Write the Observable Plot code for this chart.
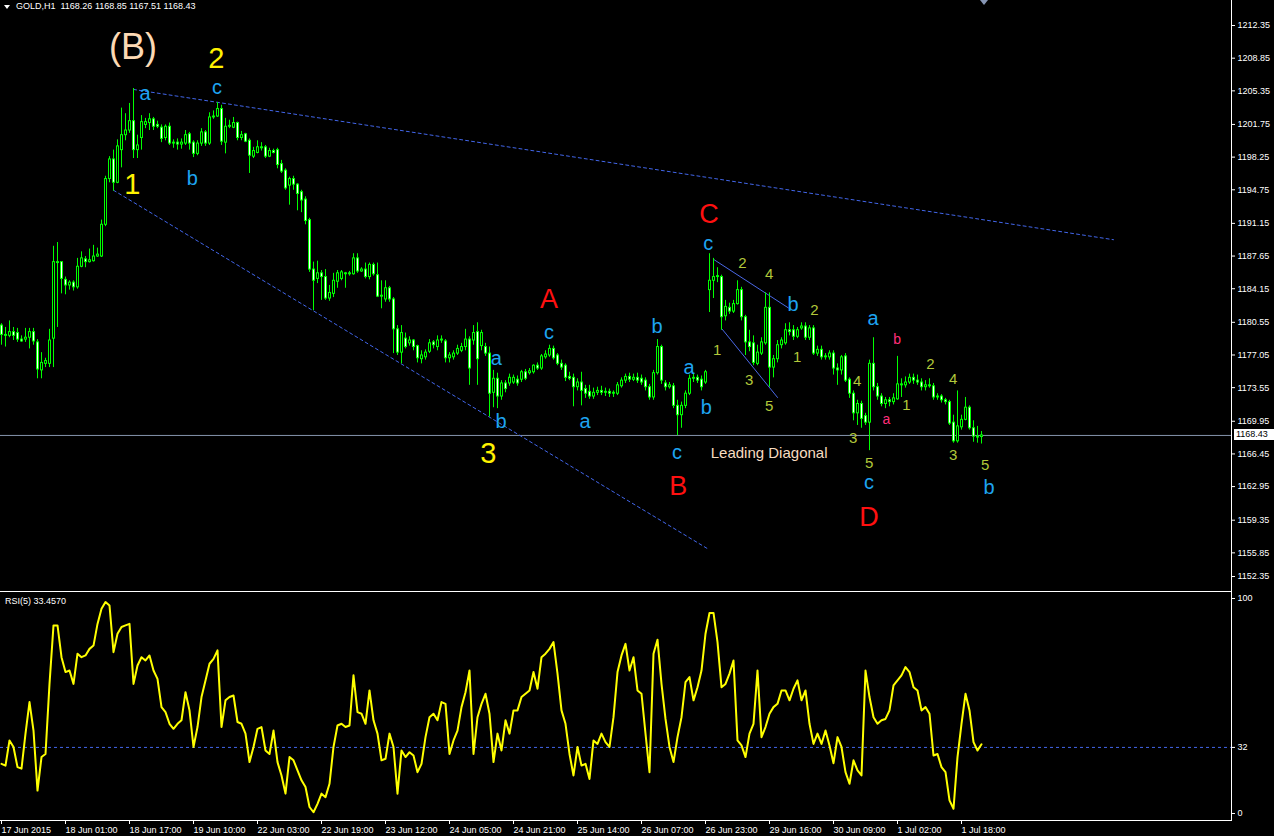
<!DOCTYPE html>
<html><head><meta charset="utf-8">
<script src="https://cdn.jsdelivr.net/npm/d3@7"></script>
<script src="https://cdn.jsdelivr.net/npm/@observablehq/plot@0.6"></script>
<style>
html,body{margin:0;padding:0;background:#000;}
#wrap{position:relative;width:1274px;height:836px;background:#000;overflow:hidden;font-family:"Liberation Sans",Arial,sans-serif;}
.abs{position:absolute;}
.lbl{position:absolute;color:#fff;font-size:9px;white-space:pre;line-height:11px;}
</style></head><body><div id="wrap"></div><script>
// ---------- DATA ----------
const symbol = "GOLD,H1";
const lastO = 1168.26, lastH = 1168.85, lastL = 1167.51, lastPrice = 1168.43;
const rsiLabel = "RSI(5) 33.4570";

const opens = [1180.2,1179.2,1179.1,1179.5,1179.4,1178.7,1178.7,1178.9,1179.5,1178.4,
1175.4,1176.1,1176.1,1178.8,1187.0,1187.0,1185.1,1184.5,1184.8,1184.3,
1186.5,1187.3,1187.0,1187.1,1187.6,1187.6,1191.0,1195.9,1198.0,1195.5,
1199.0,1200.6,1201.1,1202.1,1199.0,1200.3,1201.7,1201.9,1202.3,1201.7,
1201.4,1200.3,1201.5,1199.7,1199.8,1199.6,1199.7,1200.7,1199.8,1198.6,
1199.7,1200.9,1199.7,1202.5,1202.6,1203.4,1199.8,1201.5,1201.4,1201.9,
1200.3,1200.7,1200.0,1198.3,1198.7,1199.3,1199.3,1198.3,1198.9,1199.0,
1197.5,1196.8,1195.2,1195.9,1195.3,1194.5,1193.7,1191.5,1186.2,1185.2,
1185.8,1185.4,1183.1,1183.6,1184.9,1185.2,1185.8,1185.7,1185.7,1187.4,
1186.0,1186.2,1185.4,1186.7,1185.6,1183.3,1183.0,1184.2,1183.0,1179.8,
1177.3,1178.8,1178.3,1178.6,1178.0,1176.6,1176.8,1177.4,1178.4,1177.9,
1178.6,1178.5,1176.7,1176.8,1177.2,1177.5,1177.9,1178.7,1178.6,1179.5,
1178.0,1177.9,1177.2,1173.0,1174.5,1172.6,1174.0,1174.0,1174.1,1174.4,
1174.4,1175.2,1175.1,1175.2,1175.9,1175.6,1176.8,1177.0,1177.7,1177.0,
1176.1,1175.9,1174.7,1174.6,1173.6,1174.1,1173.4,1173.1,1172.6,1173.0,
1173.2,1173.0,1173.1,1172.9,1172.9,1173.7,1174.3,1174.7,1174.4,1174.6,
1174.5,1174.3,1173.6,1172.5,1175.1,1177.9,1174.0,1173.6,1173.7,1171.6,
1170.6,1171.6,1172.9,1174.5,1174.6,1174.4,1174.1,1184.0,1185.0,1185.4,
1185.4,1181.2,1182.1,1181.7,1182.5,1184.0,1181.1,1178.4,1178.3,1176.1,
1177.2,1178.3,1182.1,1175.7,1176.6,1178.1,1178.3,1179.7,1179.7,1179.0,
1179.9,1180.1,1178.9,1179.9,1177.2,1177.6,1176.8,1176.8,1177.2,1175.6,
1175.4,1176.9,1174.4,1172.9,1170.8,1171.8,1170.5,1169.8,1176.1,1173.6,
1172.6,1171.8,1172.2,1172.0,1172.3,1173.9,1173.8,1174.1,1174.6,1174.3,
1174.1,1173.6,1173.8,1173.7,1172.5,1172.6,1172.2,1172.0,1169.8,1167.8,
1169.3,1170.1,1171.4,1169.2,1168.3,1168.26];
const highs = [1180.4,1180.0,1180.7,1180.0,1179.9,1179.1,1179.9,1179.9,1179.9,1178.7,
1177.3,1176.7,1179.8,1188.7,1189.1,1187.0,1185.4,1185.0,1185.0,1187.4,
1188.1,1187.6,1188.4,1188.8,1188.5,1191.5,1196.2,1198.3,1199.0,1200.1,
1203.5,1202.9,1204.0,1205.6,1200.6,1202.7,1202.4,1202.9,1202.5,1202.1,
1201.7,1201.7,1201.9,1200.1,1200.2,1200.2,1201.1,1200.9,1200.0,1200.0,
1201.3,1201.1,1203.0,1203.2,1204.1,1203.8,1202.4,1202.2,1202.5,1202.0,
1201.0,1200.8,1200.2,1199.3,1200.0,1199.8,1199.5,1199.2,1199.1,1199.2,
1197.9,1197.0,1196.1,1196.2,1195.4,1194.7,1194.0,1191.7,1187.0,1187.1,
1186.1,1186.2,1184.5,1185.8,1186.1,1186.1,1185.9,1186.0,1187.9,1187.9,
1186.4,1186.9,1186.9,1186.9,1186.9,1185.0,1185.0,1184.4,1183.2,1180.2,
1180.2,1179.4,1179.0,1178.7,1178.1,1177.5,1177.6,1178.7,1178.6,1179.1,
1179.1,1178.7,1177.3,1177.5,1178.1,1178.3,1179.8,1179.0,1180.2,1180.5,
1179.7,1178.3,1177.9,1175.4,1175.1,1174.3,1174.3,1175.0,1174.9,1174.8,
1175.4,1175.5,1175.6,1176.0,1176.2,1177.1,1177.5,1178.1,1178.0,1177.2,
1176.5,1176.1,1175.2,1175.0,1174.5,1175.2,1173.8,1173.8,1173.5,1173.6,
1173.7,1173.5,1173.4,1173.2,1174.1,1174.6,1175.0,1175.1,1175.0,1175.1,
1174.9,1174.6,1173.9,1175.4,1178.7,1178.1,1174.3,1174.1,1174.0,1172.2,
1172.0,1173.2,1174.9,1175.0,1174.9,1174.8,1175.4,1187.9,1187.4,1186.4,
1185.6,1182.9,1182.6,1182.9,1185.0,1184.3,1181.3,1179.7,1179.1,1178.1,
1178.9,1183.7,1183.7,1177.0,1178.6,1178.9,1180.4,1180.5,1180.2,1180.0,
1180.5,1180.5,1180.2,1180.2,1178.0,1178.0,1177.2,1177.5,1177.5,1176.1,
1177.0,1177.2,1174.6,1173.2,1172.2,1172.1,1170.8,1176.5,1178.9,1174.0,
1172.9,1172.5,1172.5,1172.9,1176.9,1174.5,1174.7,1175.0,1175.0,1174.9,
1174.5,1174.3,1174.5,1174.0,1172.9,1172.8,1172.4,1172.2,1170.6,1173.2,
1170.6,1172.5,1171.6,1170.0,1169.4,1168.85];
const lows = [1178.1,1177.9,1178.9,1178.6,1178.4,1178.4,1178.4,1177.7,1178.1,1174.5,
1174.5,1175.7,1175.7,1175.7,1180.0,1183.6,1183.5,1184.0,1183.9,1184.1,
1186.4,1186.4,1186.9,1187.0,1187.5,1187.5,1190.8,1195.5,1194.6,1195.4,
1197.1,1200.0,1200.8,1198.1,1198.1,1199.0,1201.3,1201.1,1201.1,1201.3,
1199.8,1200.0,1199.5,1199.2,1199.0,1199.1,1199.5,1199.0,1198.2,1198.4,
1199.4,1199.4,1199.5,1202.3,1202.5,1199.5,1198.6,1201.3,1201.3,1200.0,
1200.0,1199.8,1196.5,1198.1,1198.6,1198.9,1198.1,1198.2,1198.6,1197.0,
1196.5,1194.7,1193.1,1194.7,1192.5,1192.3,1191.0,1185.9,1181.8,1184.7,
1182.9,1182.9,1182.8,1183.2,1184.2,1185.0,1184.2,1185.5,1185.6,1185.8,
1185.9,1185.2,1185.1,1185.5,1183.2,1182.0,1182.7,1182.7,1177.2,1177.0,
1176.1,1177.7,1178.0,1177.5,1176.2,1176.1,1176.5,1177.2,1177.7,1177.5,
1178.3,1176.2,1176.2,1176.5,1177.0,1177.3,1177.5,1173.8,1178.1,1173.8,
1177.5,1176.9,1170.4,1171.4,1171.3,1172.2,1173.0,1173.7,1173.9,1173.7,
1174.1,1174.3,1174.9,1175.0,1175.4,1175.4,1176.6,1176.8,1176.5,1175.9,
1175.4,1174.2,1174.3,1171.5,1173.2,1171.6,1172.4,1172.3,1172.3,1172.7,
1172.7,1172.6,1172.5,1172.5,1172.7,1173.5,1174.0,1174.1,1174.2,1174.0,
1173.8,1173.2,1172.2,1172.2,1174.9,1173.9,1173.2,1173.4,1171.3,1168.4,
1169.2,1171.3,1172.7,1174.1,1174.0,1173.2,1173.9,1181.6,1183.1,1184.8,
1179.7,1180.7,1181.4,1181.5,1182.4,1180.7,1177.0,1177.4,1175.9,1175.9,
1177.0,1178.1,1173.6,1174.6,1176.2,1177.7,1178.1,1179.1,1178.6,1178.8,
1179.7,1178.6,1178.6,1177.0,1176.9,1176.5,1176.5,1176.5,1174.9,1173.8,
1174.9,1174.1,1172.4,1170.0,1169.5,1169.2,1169.5,1166.8,1173.2,1172.2,
1171.5,1171.3,1171.5,1171.7,1172.2,1172.5,1173.5,1173.9,1173.9,1173.8,
1173.2,1173.2,1173.5,1172.2,1172.2,1171.9,1171.7,1169.5,1167.6,1167.6,
1169.0,1170.0,1169.0,1167.7,1167.6,1167.51];
const closes = [1179.2,1179.1,1179.5,1179.1,1178.7,1178.5,1178.9,1179.5,1178.5,1175.5,
1176.2,1176.4,1178.6,1187.0,1186.9,1185.2,1184.5,1184.8,1184.3,1186.5,
1187.4,1187.0,1187.2,1187.6,1187.8,1191.0,1195.9,1198.0,1195.5,1199.4,
1200.6,1201.1,1202.1,1199.0,1199.5,1202.0,1202.0,1202.3,1201.5,1201.5,
1200.2,1201.5,1199.7,1199.8,1199.6,1199.8,1200.6,1199.7,1198.6,1199.7,
1200.9,1199.7,1202.5,1202.6,1203.4,1199.9,1201.5,1201.6,1201.9,1200.3,
1200.6,1199.9,1198.4,1198.9,1199.3,1199.2,1198.3,1198.9,1198.7,1197.4,
1196.7,1194.9,1195.9,1195.3,1194.3,1193.6,1191.4,1186.2,1185.0,1185.8,
1185.4,1183.1,1183.7,1185.0,1185.8,1185.9,1185.7,1185.8,1187.4,1186.0,
1186.2,1185.4,1186.7,1185.7,1183.3,1183.4,1184.2,1183.0,1179.8,1177.3,
1179.4,1177.9,1178.6,1177.9,1176.7,1177.0,1177.3,1178.3,1178.1,1178.6,
1178.7,1176.7,1177.0,1177.2,1177.7,1177.9,1178.7,1175.6,1179.4,1176.6,
1179.4,1177.2,1172.9,1174.5,1172.6,1174.0,1173.4,1174.6,1174.6,1174.0,
1175.2,1174.5,1175.3,1175.9,1175.6,1176.9,1177.1,1177.7,1176.7,1176.1,
1175.7,1174.6,1174.5,1173.6,1174.1,1173.2,1172.9,1172.6,1173.0,1173.2,
1173.0,1173.1,1172.9,1173.0,1173.8,1174.3,1174.7,1174.4,1174.6,1174.3,
1174.1,1173.6,1172.5,1175.1,1177.9,1174.3,1173.6,1173.8,1171.6,1170.6,
1171.6,1172.9,1174.5,1174.6,1174.3,1173.6,1175.2,1185.0,1185.4,1185.5,
1181.1,1182.2,1181.7,1182.5,1184.0,1181.1,1178.4,1177.9,1176.2,1177.3,
1178.4,1182.1,1175.7,1176.6,1178.1,1178.6,1179.7,1179.5,1179.0,1179.7,
1180.1,1178.9,1179.9,1177.2,1177.6,1176.8,1176.9,1177.2,1175.6,1175.4,
1176.8,1174.3,1172.9,1170.8,1171.8,1170.2,1169.8,1176.1,1173.6,1172.6,
1171.8,1172.2,1172.0,1172.4,1173.9,1173.8,1174.1,1174.6,1174.3,1174.1,
1173.6,1173.8,1173.7,1172.5,1172.6,1172.2,1172.0,1169.7,1167.8,1169.4,
1170.1,1171.4,1169.2,1168.3,1168.2,1168.43];

const rsi = [24.5,23.7,35.2,32.2,23.0,22.3,38.3,52.7,39.7,12.3,
27.6,29.0,61.0,87.7,87.7,73.2,66.4,67.1,61.0,74.8,
73.2,74.0,77.0,78.5,88.4,95.3,98.4,96.8,75.5,83.9,
87.0,87.7,88.4,61.0,69.4,73.2,71.7,74.0,67.1,63.3,
50.4,48.1,42.8,40.5,42.8,44.4,57.2,48.9,32.2,41.3,
55.0,62.6,70.2,72.4,76.3,41.3,53.5,55.0,55.7,43.6,
42.8,38.3,25.3,32.2,40.5,41.3,30.6,29.0,39.7,25.3,
19.2,10.9,27.6,26.1,21.5,17.0,13.9,4.8,2.4,6.2,
10.9,9.3,15.4,32.2,42.0,42.8,41.3,42.0,64.9,48.1,
47.4,42.8,58.0,44.4,38.3,26.1,26.8,38.3,32.2,10.9,
30.6,27.6,29.8,28.3,20.7,24.5,36.7,45.8,47.4,44.4,
52.7,51.9,29.0,35.2,39.7,50.4,57.2,67.1,29.0,45.8,
51.9,56.5,47.4,25.3,38.3,30.6,44.4,38.3,48.9,48.9,
55.0,56.5,58.0,66.4,58.8,73.2,74.8,77.0,80.1,65.7,
48.9,42.8,29.0,19.2,32.2,23.7,24.5,17.6,35.2,33.6,
38.3,34.4,32.2,45.8,66.4,74.0,79.3,67.1,73.2,58.0,
56.5,38.3,20.7,74.8,81.2,61.0,45.0,32.2,25.3,36.7,
45.8,61.8,64.1,53.5,59.5,67.1,83.9,93.4,93.4,80.1,
59.5,61.0,65.7,71.7,35.2,32.9,27.6,38.3,42.8,67.1,
36.7,41.3,47.4,50.4,51.9,58.0,58.0,53.5,58.8,62.6,
53.5,58.0,42.8,33.6,38.3,33.6,39.7,32.9,24.8,36.7,
32.2,20.7,15.4,26.1,21.5,19.2,67.1,55.0,45.8,42.8,
44.4,45.0,48.9,60.3,62.6,64.9,68.7,66.4,59.5,58.0,
48.9,50.4,47.4,28.3,29.0,23.0,20.7,7.8,4.0,27.6,
42.8,56.5,48.9,34.4,30.6,33.46];
const rsiLevel = 32;

const priceTicks = [1212.35,1208.85,1205.35,1201.75,1198.25,1194.75,1191.15,1187.65,1184.15,1180.55,1177.05,1173.55,1169.95,1166.45,1162.95,1159.35,1155.85];
const priceTickBottom = [1152.35];
const rsiTicks = [100, 32];
const rsiTickBottom = [0];
const timeTickBars = [0,16,32,48,64,80,96,112,128,144,160,176,192,208,224,240];
const timeTickLabels = ["17 Jun 2015","18 Jun 01:00","18 Jun 17:00","19 Jun 10:00","22 Jun 03:00","22 Jun 19:00","23 Jun 12:00","24 Jun 05:00","24 Jun 21:00","25 Jun 14:00","26 Jun 07:00","26 Jun 23:00","29 Jun 16:00","30 Jun 09:00","1 Jul 02:00","1 Jul 18:00"];

// trend lines (bar index, price)
const dottedLines = [
  {id:"upper", bar:33, price:1205.5},{id:"upper", bar:278, price:1189.4},
  {id:"lower", bar:28, price:1194.7},{id:"lower", bar:176.5, price:1156.3}
];
const diagonalLines = [
  {id:"top", bar:178, price:1187.3},{id:"top", bar:196.7, price:1182.1},
  {id:"bot", bar:180.2, price:1179.8},{id:"bot", bar:194, price:1172.5}
];

// wave labels
const annotText  = ["(B)","2","c","a","1","b","3","A","c","a","b","a","b","a","b","c","B","C","c","Leading Diagonal","2","4","1","3","5","b","2","1","a","b","4","3","5","c","D","a","1","2","4","3","5","b"];
const annotBar   = [32.9,53.7,53.9,35.9,32.7,47.7,121.7,136.9,136.9,123.7,124.9,145.9,163.9,171.9,176.2,168.9,169.2,176.9,176.7,191.9,185.2,191.9,178.9,186.9,191.9,197.9,203.2,198.9,217.9,223.9,213.9,212.9,216.9,216.9,216.9,221.2,226.2,232.2,237.9,237.9,245.9,246.9];
const annotPrice = [1210.0,1208.8,1205.7,1205.1,1195.3,1196.0,1166.5,1183.0,1179.5,1176.7,1169.9,1169.9,1180.1,1175.7,1171.4,1166.6,1163.0,1192.1,1189.0,1166.5,1186.9,1185.7,1177.6,1174.4,1171.6,1182.5,1181.8,1176.8,1180.9,1178.7,1174.2,1168.1,1165.5,1163.4,1159.7,1170.1,1171.7,1176.1,1174.5,1166.3,1165.2,1162.8];
const annotKind  = ["peach","yellow","blue","blue","yellow","blue","yellow","red","blue","blue","blue","blue","blue","blue","blue","blue","red","red","blue","note","olive","olive","olive","olive","olive","blue","olive","olive","blue","pink","olive","olive","olive","blue","red","pink","olive","olive","olive","olive","olive","blue"];

// ---------- STYLE ----------
const kindStyle = {
  peach:{fill:"#fcd9b4", size:36},
  yellow:{fill:"#fff200", size:29},
  red:{fill:"#ff1010", size:27},
  blue:{fill:"#1ea4f0", size:20},
  olive:{fill:"#b2c83a", size:15},
  pink:{fill:"#ff2e7a", size:14},
  note:{fill:"#f7dcc0", size:15}
};
const W = 1274, RIGHT = 43;
const MAIN_H = 591, PRICE_BOTTOM = 1151.71, PRICE_TOP = 1215.03;
const RSI_TOPPX = 592, RSI_H = 244, RSI_MT = 6, RSI_MB = 16, RSI_MIN = -1.37;
const XDOM = [-0.25, 307.5];
const UP = "#00ff00";
const FONT = "Liberation Sans, Arial, sans-serif";

const candles = closes.map((c,i)=>({i, o:opens[i], h:highs[i], l:lows[i], c}));
const annots = annotText.map((t,k)=>({t, bar:annotBar[k], price:annotPrice[k], kind:annotKind[k]}));
const pp = (PRICE_TOP - PRICE_BOTTOM) / MAIN_H; // price per pixel

const textMarks = Object.keys(kindStyle).map(k =>
  Plot.text(annots.filter(a=>a.kind===k), {x:"bar", y:"price", text:"t", fill:kindStyle[k].fill, fontSize:kindStyle[k].size, fontFamily:FONT})
);
const axisOpts = {anchor:"right", tickSize:3, tickPadding:3, stroke:"#fff", fill:"#fff", fontSize:9};

const main = Plot.plot({
  width: W, height: MAIN_H,
  marginLeft: 0, marginRight: RIGHT, marginTop: 0, marginBottom: 0,
  style: {background:"#000", color:"#fff", fontFamily:FONT, fontSize:"9px", overflow:"visible"},
  x: {domain: XDOM, axis: null},
  y: {domain: [PRICE_BOTTOM, PRICE_TOP], axis: null},
  marks: [
    Plot.ruleY([lastPrice], {stroke:"#8594ad", strokeWidth:1}),
    Plot.line(dottedLines, {x:"bar", y:"price", z:"id", stroke:"#4266ea", strokeWidth:1, strokeDasharray:"3,3"}),
    Plot.line(diagonalLines, {x:"bar", y:"price", z:"id", stroke:"#4a68e6", strokeWidth:1}),
    Plot.ruleX(candles, {x:"i", y1:"l", y2:"h", stroke:UP, strokeWidth:1}),
    Plot.ruleX(candles, {x:"i", y1:d=>Math.max(d.o,d.c)+pp*0.5, y2:d=>Math.min(d.o,d.c)-pp*0.5, stroke:UP, strokeWidth:3}),
    Plot.ruleX(candles.filter(d=>Math.abs(d.o-d.c)>pp*1.5 && d.c>=d.o), {x:"i", y1:d=>d.c-pp*0.5, y2:d=>d.o+pp*0.5, stroke:"#000", strokeWidth:1}),
    Plot.ruleX(candles.filter(d=>Math.abs(d.o-d.c)>pp*1.5 && d.c<d.o), {x:"i", y1:d=>d.o-pp*0.5, y2:d=>d.c+pp*0.5, stroke:"#fff", strokeWidth:1}),
    ...textMarks,
    Plot.axisY(priceTicks, {...axisOpts, tickFormat:d3.format(".2f")}),
    Plot.axisY(priceTickBottom, {...axisOpts, tickFormat:d3.format(".2f"), dy:-9})
  ]
});

const rsiPlot = Plot.plot({
  width: W, height: RSI_H,
  marginLeft: 0, marginRight: RIGHT, marginTop: RSI_MT, marginBottom: RSI_MB,
  style: {background:"#000", color:"#fff", fontFamily:FONT, fontSize:"9px", overflow:"visible"},
  x: {domain: XDOM, axis: null},
  y: {domain: [RSI_MIN, 100], axis: null},
  marks: [
    Plot.ruleY([rsiLevel], {stroke:"#4266ea", strokeDasharray:"3,3"}),
    Plot.line(rsi, {x:(d,i)=>i, y:d=>d, stroke:"#ffff00", strokeWidth:2, curve:"linear"}),
    Plot.axisY(rsiTicks, axisOpts),
    Plot.axisY(rsiTickBottom, {...axisOpts, dy:-4}),
    Plot.axisX(timeTickBars, {anchor:"bottom", tickSize:4, tickPadding:2, textAnchor:"start", tickFormat:(d)=>timeTickLabels[timeTickBars.indexOf(d)], stroke:"#fff", fill:"#fff", fontSize:9}),
    Plot.frame({anchor:"bottom", stroke:"#fff"})
  ]
});

const wrap = document.getElementById("wrap");
main.style.position = "absolute"; main.style.left = "0px"; main.style.top = "0px";
rsiPlot.style.position = "absolute"; rsiPlot.style.left = "0px"; rsiPlot.style.top = RSI_TOPPX + "px";
wrap.appendChild(main);
wrap.appendChild(rsiPlot);

function addDiv(css, text){ const d=document.createElement("div"); d.className="abs"; Object.assign(d.style, css); if(text!==undefined) d.textContent=text; wrap.appendChild(d); return d; }
// frame lines
addDiv({left:"1231px", top:"0px", width:"1px", height:"821px", background:"#fff"});
addDiv({left:"0px", top:"591px", width:"1232px", height:"1px", background:"#fff"});
// header
addDiv({left:"4px", top:"5px", width:"0", height:"0", borderLeft:"3px solid transparent", borderRight:"3px solid transparent", borderTop:"4px solid #fff"});
const hdr = addDiv({left:"16px", top:"1px"}, symbol + "  " + [lastO,lastH,lastL,lastPrice].map(d3.format(".2f")).join(" "));
hdr.className = "lbl";
const rl = addDiv({left:"5px", top:"596px"}, rsiLabel); rl.className = "lbl";
// shift marker
addDiv({left:"980px", top:"0px", width:"0", height:"0", borderLeft:"4px solid transparent", borderRight:"4px solid transparent", borderTop:"5px solid #8796b4"});
// last price box
const yLast = main.scale("y").apply(lastPrice);
addDiv({left:"1234px", top:(yLast-5.5)+"px", width:"40px", height:"11px", background:"#fff", color:"#000", fontSize:"9px", lineHeight:"11px", paddingLeft:"2px", boxSizing:"border-box"}, d3.format(".2f")(lastPrice));
</script></body></html>
